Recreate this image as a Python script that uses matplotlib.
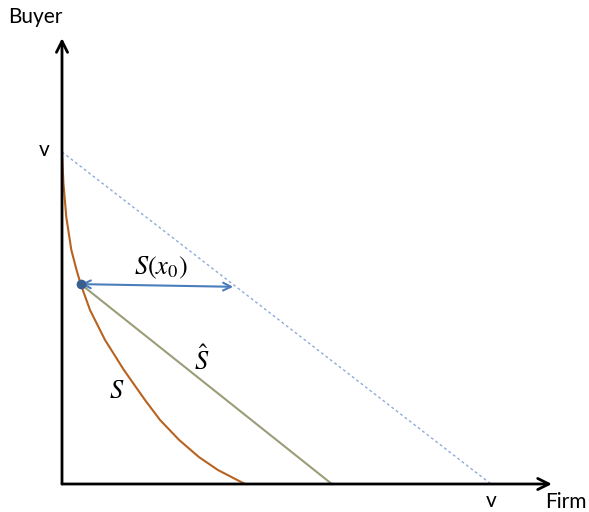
import matplotlib
matplotlib.use('Agg')
import matplotlib.pyplot as plt

# values in units of v (v = 1)
v = 1.0
curve_x = [0.0, 0.0033, 0.010, 0.0217, 0.0338, 0.0436, 0.0653, 0.1002, 0.1445,
           0.1935, 0.2284, 0.2727, 0.3193, 0.3636, 0.4266]
curve_y = [1.0, 0.907, 0.804, 0.705, 0.645, 0.602, 0.524, 0.434, 0.343,
           0.253, 0.193, 0.133, 0.081, 0.042, 0.0]
x0_point = (0.0436, 0.602)
shat_end = (0.629, 0.0)
arrow_end = (0.399, 0.594)

plt.rcParams['font.family'] = ['Lato', 'DejaVu Sans']
plt.rcParams['mathtext.fontset'] = 'stix'

fig = plt.figure(figsize=(5.89, 5.12), dpi=100)
ax = fig.add_axes([0, 0, 1, 1])
ax.set_xlim(-62 / 429, (589 - 62) / 429)
ax.set_ylim((484 - 512) / 332, 484 / 332)
ax.axis('off')

# axes with arrows
for tip in [(1.142, 0), (0, 1.343)]:
    ax.annotate('', xy=tip, xytext=(0, 0),
                arrowprops=dict(arrowstyle='->', lw=2, color='black', mutation_scale=20,
                                shrinkA=0, shrinkB=0))

# budget line v-v
ax.plot([0, v], [v, 0], color='#8eaadb', lw=1, ls=(0, (2, 2)))

# S curve
ax.plot(curve_x, curve_y, color='#b8621f', lw=1.5, solid_joinstyle='round')

# S hat line
ax.plot([x0_point[0], shat_end[0]], [x0_point[1], shat_end[1]], color='#9c9c78', lw=1.5)

# S(x0) double arrow
ax.annotate('', xy=arrow_end, xytext=x0_point,
            arrowprops=dict(arrowstyle='<->', lw=1.5, color='#4a7ebb', mutation_scale=14,
                            shrinkA=0, shrinkB=0))
ax.plot(*x0_point, 'o', color='#3a5f8f', ms=6, zorder=5)

ax.text(-0.063, 1.407, 'Buyer', fontsize=15, ha='center', va='center')
ax.text(1.175, -0.055, 'Firm', fontsize=15, ha='center', va='center')
ax.text(-0.042, 1.006, 'v', fontsize=15, ha='center', va='center')
ax.text(1.0, -0.052, 'v', fontsize=15, ha='center', va='center')
ax.text(0.231, 0.651, r'$S(x_0)$', fontsize=19, ha='center', va='center')
ax.text(0.326, 0.373, r'$\hat{S}$', fontsize=19, ha='center', va='center')
ax.text(0.128, 0.283, r'$S$', fontsize=19, ha='center', va='center')

fig.savefig('out.png', dpi=100)
